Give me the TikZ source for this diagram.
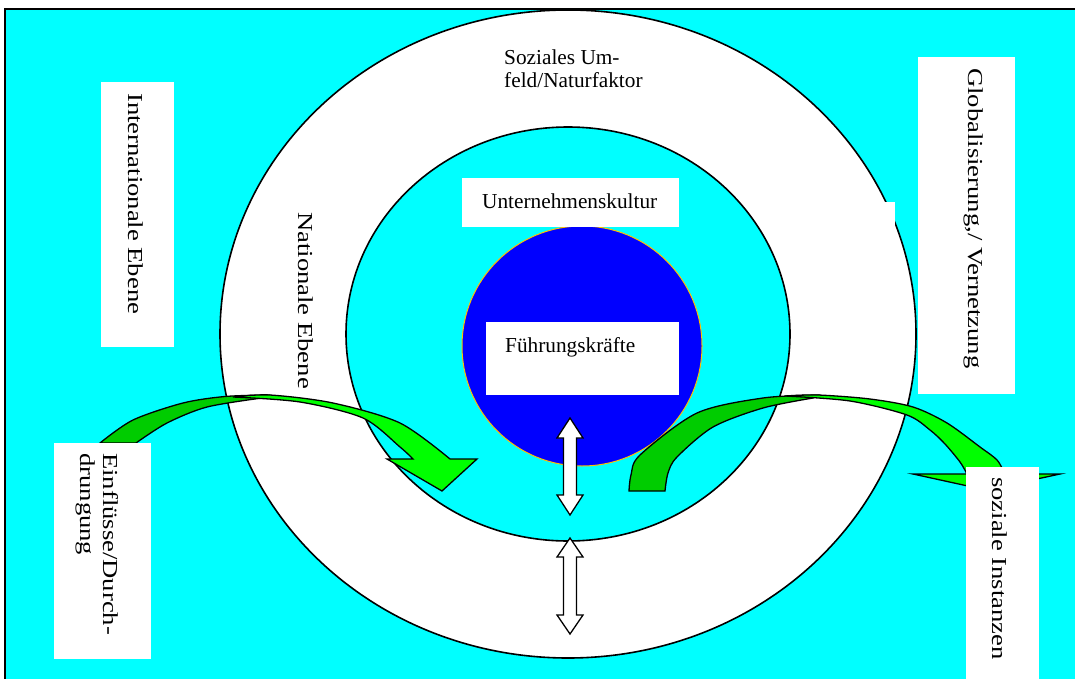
\documentclass[tikz,border=0pt]{standalone}
\usepackage{fontspec}
\setmainfont{Liberation Serif}
\usepackage{graphicx}
\definecolor{bgcyan}{HTML}{00FFFF}
\definecolor{cblue}{HTML}{0000FF}
\definecolor{corange}{HTML}{FFC000}
\definecolor{dkgreen}{HTML}{00CC00}
\definecolor{ltgreen}{HTML}{00FF00}
\tikzset{
  box/.style={fill=white, draw=none, inner sep=0pt, anchor=north west},
  lbl/.style={inner sep=0pt, font=\fontsize{21.3}{23}\selectfont},
  vlbl/.style={lbl, rotate=-90, anchor=base west},
  ring/.style={draw=black, line width=1.6pt},
  garrow/.style={draw=black, line width=1.3pt, line join=miter},
  darrow/.style={fill=white, draw=black, line width=1.3pt, line join=miter},
}
\newcommand{\stretchtxt}[1]{\scalebox{1.25}[1]{#1}}
\begin{document}
\begin{tikzpicture}[x=1pt,y=-1pt]
\useasboundingbox (0,0) rectangle (1075,679);
\clip (0,0) rectangle (1075,679);
\fill[white] (0,0) rectangle (1075,679);
\draw[fill=bgcyan, draw=black, line width=2pt] (4.5,9.5) rectangle (1090,700);

% rings
\draw[ring, fill=white] (568,334) ellipse [x radius=348pt, y radius=324pt];
\draw[ring, fill=bgcyan] (568,334) ellipse [x radius=222pt, y radius=207pt];
\node[circle, fill=cblue, draw=corange, line width=1pt, minimum size=240pt, inner sep=0pt] (core) at (582,346) {};

% inner boxes
\node[box, minimum width=217pt, minimum height=49pt] (kulturbox) at (462,178) {};
\node[box, minimum width=193pt, minimum height=73pt] (fuehrbox) at (486,322) {};
\node[lbl, anchor=base west] (kultur) at (482,208) {Unternehmenskultur};
\node[lbl, anchor=base west] (fuehr) at (505,352) {Führungskräfte};

% left green curved arrow
\draw[garrow, fill=dkgreen] plot[smooth] coordinates {(100,443) (133,420) (183,403) (225,396.5) (268,395)}
  -- plot[smooth] coordinates {(262,398) (207,407) (167,423) (136,443)} -- cycle;
\draw[garrow, fill=ltgreen] plot[smooth] coordinates {(233,397) (270,395) (333,403) (400,423) (450,459)}
  -- (477,459) -- (442,491) -- (387,459) -- (413,459)
  -- plot[smooth] coordinates {(413,459) (400,447) (363,418) (300,402) (233,397)} -- cycle;

% right green curved arrow
\draw[garrow, fill=dkgreen] plot[smooth] coordinates {(629,491) (631,475) (640,455) (697,413) (763,398) (818,395)}
  -- plot[smooth] coordinates {(813,398) (763,408) (713,427) (677,457) (668,473) (665,491)} -- cycle;
\draw[garrow, fill=ltgreen] plot[smooth] coordinates {(785,396) (818,395) (870,399) (913,407) (947,423) (980,447) (997,460) (1005,474)}
  -- (1060,474) -- (986,490) -- (913,474) -- (967,474)
  -- plot[smooth] coordinates {(967,474) (960,462) (945,444) (930,430) (907,415) (850,401) (785,396)} -- cycle;

% outer boxes
\node[box, minimum width=73pt, minimum height=265pt] (intlbox) at (101,82) {};
\node[box, minimum width=97pt, minimum height=337pt] (globbox) at (918,57) {};
\node[box, minimum width=97pt, minimum height=216pt] (einflbox) at (54,443) {};
\node[box, minimum width=73pt, minimum height=240pt] (sozbox) at (966,467) {};
\fill[white] (880,202) rectangle (895,245);

% rotated labels
\node[vlbl] (intl) at (128,93) {\stretchtxt{Internationale Ebene}};
\node[vlbl] (glob) at (968,68) {\stretchtxt{Globalisierung,/ Vernetzung}};
\node[vlbl] (nat) at (298,212) {\stretchtxt{Nationale Ebene}};
\node[vlbl] (einfl) at (103,453) {\stretchtxt{\begin{tabular}[t]{@{}l@{}}Einflüsse/Durch-\\drungung\end{tabular}}};
\node[vlbl] (soz) at (992,477) {\stretchtxt{soziale Instanzen}};

% top label
\node[lbl, anchor=base west] (umfeld) at (504,65) {\begin{tabular}[t]{@{}l@{}}Soziales Um-\\feld/Naturfaktor\end{tabular}};

% white double arrows
\draw[darrow] (570,418) -- (583,438) -- (576.5,438) -- (576.5,495) -- (583,495) -- (570,515)
  -- (557,495) -- (563.5,495) -- (563.5,438) -- (557,438) -- cycle;
\draw[darrow] (570,538) -- (583,557) -- (576.5,557) -- (576.5,615) -- (583,615) -- (570,634)
  -- (557,615) -- (563.5,615) -- (563.5,557) -- (557,557) -- cycle;
\end{tikzpicture}
\end{document}
